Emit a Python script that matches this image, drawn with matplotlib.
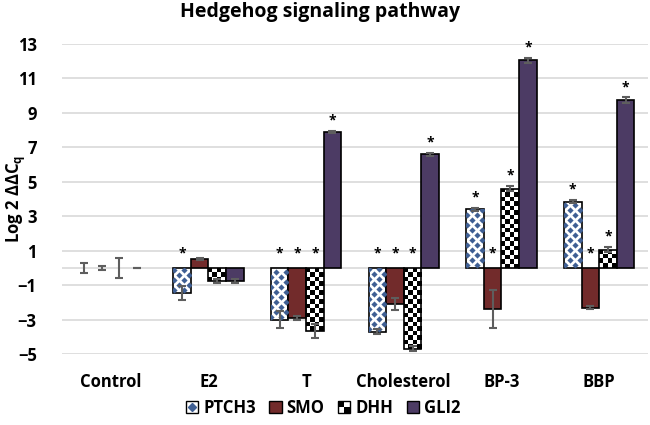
import numpy as np
import matplotlib.pyplot as plt
from matplotlib.patches import Rectangle
from matplotlib.legend_handler import HandlerBase

plt.rcParams['font.family'] = ['Open Sans', 'DejaVu Sans']

# data
groups = ['Control', 'E2', 'T', 'Cholesterol', 'BP-3', 'BBP']
genes = ['PTCH3', 'SMO', 'DHH', 'GLI2']
ptch3 = [0.0, -1.45, -3.0, -3.7, 3.4, 3.85]
smo = [0.0, 0.5, -2.9, -2.1, -2.4, -2.3]
dhh = [0.0, -0.75, -3.65, -4.7, 4.6, 1.05]
gli2 = [0.0, -0.75, 7.9, 6.6, 12.05, 9.75]
ptch3_err = [0.3, 0.4, 0.5, 0.15, 0.1, 0.1]
smo_err = [0.12, 0.05, 0.1, 0.35, 1.1, 0.1]
dhh_err = [0.6, 0.1, 0.4, 0.15, 0.15, 0.15]
gli2_err = [0.0, 0.1, 0.05, 0.1, 0.15, 0.15]
# significance stars (1 = marked)
ptch3_sig = [0, 1, 1, 1, 1, 1]
smo_sig = [0, 0, 1, 1, 1, 1]
dhh_sig = [0, 0, 1, 1, 1, 1]
gli2_sig = [0, 0, 1, 1, 1, 1]

blue = '#3F5F93'
red = '#722B2B'
purple = '#4C3B64'
errc = '#5E5E5E'

fig = plt.figure(figsize=(6.5, 4.25), dpi=100)
ax = fig.add_axes([0.095, 0.167, 0.902, 0.7295])

x = np.arange(len(groups))
w = 0.18
offs = [-1.5 * w, -0.5 * w, 0.5 * w, 1.5 * w]
vals = [ptch3, smo, dhh, gli2]
errs = [ptch3_err, smo_err, dhh_err, gli2_err]
sigs = [ptch3_sig, smo_sig, dhh_sig, gli2_sig]

ypx = 17.2  # pixels per data unit
xpx = 97.7

for k in range(4):
    xs = x + offs[k]
    v = np.array(vals[k])
    lw = np.where(v == 0, 0, 1.2)
    if k == 0:
        bars = ax.bar(xs, v, w, color='white', edgecolor='black', linewidth=lw, zorder=3)
        for b in bars:
            h = b.get_height()
            if h == 0:
                continue
            # staggered diamond dots
            x0 = b.get_x()
            dy = 5.0 / ypx
            dx = 10.0 / xpx
            ys_ = np.arange(min(0, h) + dy / 2, max(0, h), dy)
            px, py = [], []
            for r, yy in enumerate(ys_):
                start = x0 + (0.25 if r % 2 == 0 else 0.75) * dx - 0.02
                for xx in np.arange(start, x0 + w, dx):
                    px.append(xx)
                    py.append(yy)
            sc = ax.scatter(px, py, marker='D', s=10, color=blue, linewidths=0, zorder=3.5)
            sc.set_clip_path(b)
    elif k == 2:
        bars = ax.bar(xs, v, w, color='none', edgecolor='black', linewidth=lw, zorder=3)
        for b in bars:
            h = b.get_height()
            if h == 0:
                continue
            x0 = b.get_x()
            ncol = 4
            cell = w * xpx / ncol
            nrow = max(1, int(round(abs(h) * ypx / cell)))
            chk = np.indices((nrow, ncol)).sum(axis=0) % 2
            im = ax.imshow(chk, cmap='gray', vmin=0, vmax=1, aspect='auto',
                           extent=(x0, x0 + w, min(0, h), max(0, h)),
                           interpolation='nearest', zorder=2.5)
            im.set_clip_path(b)
    else:
        col = red if k == 1 else purple
        ax.bar(xs, v, w, color=col, edgecolor='black', linewidth=lw, zorder=3)
    ax.errorbar(xs, v, yerr=errs[k], fmt='none', ecolor=errc, elinewidth=1.5,
                capsize=3, capthick=1.5, zorder=4)
    for i in range(len(groups)):
        if sigs[k][i]:
            if v[i] > 0:
                ys = v[i] + errs[k][i] + 0.6
            else:
                ys = 0.85
            ax.text(xs[i], ys, '*', ha='center', va='center', fontsize=10,
                    fontweight='bold', zorder=5)

ax.set_ylim(-5, 13)
ax.set_xlim(-0.5, len(groups) - 0.5)
ax.set_yticks(np.arange(-5, 14, 2))
ax.grid(axis='y', color='#D9D9D9', linewidth=1.2, zorder=0)
ax.axhline(0, color='#D9D9D9', linewidth=1.2, zorder=1)
ax.set_axisbelow(True)
for s in ax.spines.values():
    s.set_visible(False)
ax.tick_params(length=0, labelsize=12)
ax.tick_params(axis='y', pad=18)
ax.tick_params(axis='x', pad=14)
ax.set_xticks(x)
ax.set_xticklabels(groups)
for t in ax.get_xticklabels() + ax.get_yticklabels():
    t.set_fontweight('bold')
ax.set_ylabel('Log 2 ΔΔC$_\\mathregular{q}$', fontsize=12, fontweight='bold', labelpad=0)
ax.yaxis.set_label_coords(-0.058, 0.5)

fig.suptitle('Hedgehog signaling pathway', x=0.493, y=0.995, fontsize=14, fontweight='bold')


class HandlerChecker(HandlerBase):
    def create_artists(self, legend, orig_handle, xdescent, ydescent, width, height, fontsize, trans):
        s = min(width, height)
        x0 = -xdescent + (width - s) / 2
        y0 = -ydescent + (height - s) / 2
        arts = [Rectangle((x0, y0), s, s, facecolor='white', edgecolor='black', lw=1, transform=trans)]
        arts.append(Rectangle((x0, y0 + s / 2), s / 2, s / 2, facecolor='black', lw=0, transform=trans))
        arts.append(Rectangle((x0 + s / 2, y0), s / 2, s / 2, facecolor='black', lw=0, transform=trans))
        return arts


class HandlerDot(HandlerBase):
    def create_artists(self, legend, orig_handle, xdescent, ydescent, width, height, fontsize, trans):
        s = min(width, height)
        x0 = -xdescent + (width - s) / 2
        y0 = -ydescent + (height - s) / 2
        arts = [Rectangle((x0, y0), s, s, facecolor='white', edgecolor='black', lw=1, transform=trans)]
        arts.append(plt.Line2D([x0 + s / 2], [y0 + s / 2], marker='D', markersize=4,
                               color=blue, transform=trans))
        return arts


h_p = Rectangle((0, 0), 1, 1)
h_s = Rectangle((0, 0), 1, 1, facecolor=red, edgecolor='black')
h_d = Rectangle((0, 0), 1, 1)
h_g = Rectangle((0, 0), 1, 1, facecolor=purple, edgecolor='black')
leg = fig.legend([h_p, h_s, h_d, h_g], genes, loc='center', bbox_to_anchor=(0.497, 0.04),
                 ncol=4, frameon=False, handlelength=0.75, handleheight=0.75,
                 handletextpad=0.3, columnspacing=0.8,
                 handler_map={h_p: HandlerDot(), h_d: HandlerChecker()},
                 prop={'weight': 'bold', 'size': 12})

fig.savefig('out.png', dpi=100)
